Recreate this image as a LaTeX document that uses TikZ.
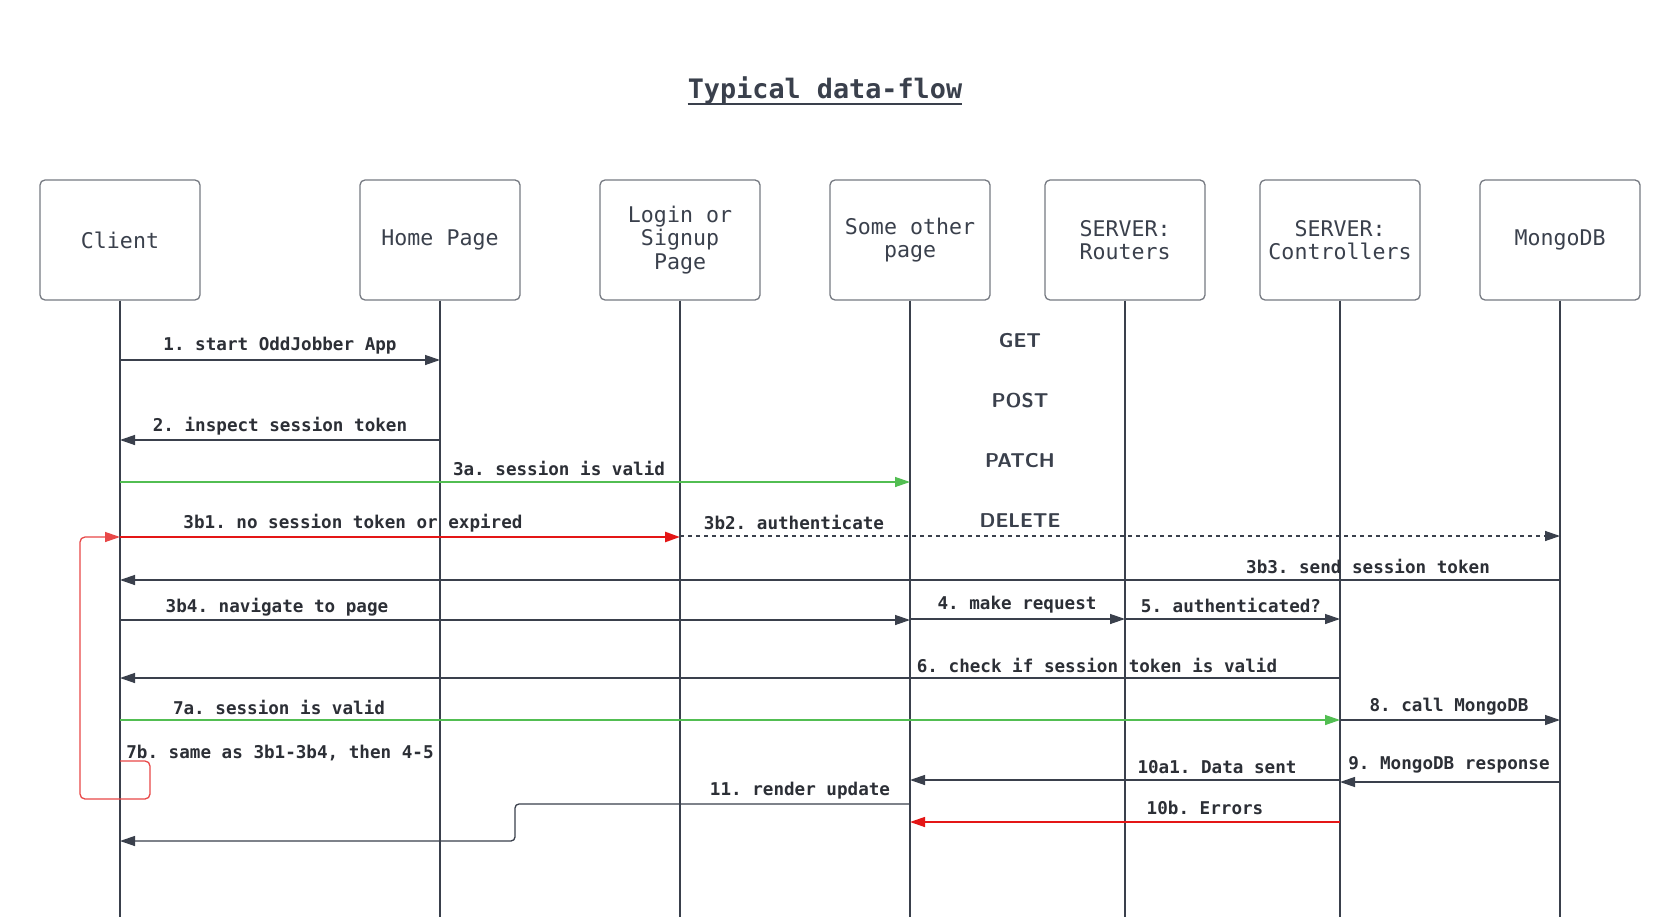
\documentclass[tikz,border=0pt]{standalone}
\usepackage{fontspec}
\setmainfont{Liberation Sans}
\setmonofont{DejaVu Sans Mono}
\usetikzlibrary{arrows.meta}
\definecolor{ink}{RGB}{58,64,76}
\definecolor{lblink}{RGB}{44,47,54}
\definecolor{boxline}{RGB}{118,122,130}
\definecolor{okgreen}{RGB}{82,190,82}
\definecolor{errred}{RGB}{228,22,22}
\definecolor{loopred}{RGB}{232,72,72}
\tikzset{
  actor/.style={draw=boxline, line width=1.3pt, fill=white, rounded corners=5pt,
    minimum width=160pt, minimum height=120pt, align=center, text=ink,
    font=\ttfamily\fontsize{21.6}{23.4}\selectfont},
  life/.style={draw=ink, line width=2pt},
  msg/.style={draw=ink, line width=1.3pt, -{Triangle[length=15pt,width=10pt]}},
  lbl/.style={text=lblink, inner sep=0pt, font=\ttfamily\bfseries\fontsize{17.6}{20}\selectfont},
  meth/.style={text=ink, inner sep=0pt, font=\sffamily\bfseries\fontsize{20}{22}\selectfont},
  titlestyle/.style={text=ink, inner sep=0pt, font=\ttfamily\bfseries\fontsize{26.8}{30}\selectfont},
}
\begin{document}
\begin{tikzpicture}[x=1pt,y=-1pt]
\useasboundingbox[fill=white] (0,0) rectangle (1680,917);
% title
\node[titlestyle, anchor=base] (title) at (825,99) {Typical data-flow};
\draw[ink, line width=2.5pt] (title.base west |- 0,104) -- (title.base east |- 0,104);
% actors
\node[actor] (client) at (120,240) {Client};
\node[actor] (home) at (440,240) {Home Page};
\node[actor] (login) at (680,240) {Login or\\Signup\\Page};
\node[actor] (some) at (910,240) {Some other\\page};
\node[actor] (routers) at (1125,240) {SERVER:\\Routers};
\node[actor] (ctrl) at (1340,240) {SERVER:\\Controllers};
\node[actor] (mongo) at (1560,240) {MongoDB};
% lifelines
\foreach \n in {client,home,login,some,routers,ctrl,mongo}{
  \coordinate (\n-end) at (\n |- 0,917);
  \draw[life] (\n.south) -- (\n-end);
}
% methods
\node[meth] (get) at (1020,341) {GET};
\node[meth] (post) at (1020,401) {POST};
\node[meth] (patch) at (1020,461) {PATCH};
\node[meth] (delete) at (1020,521) {DELETE};
% messages
\draw[msg] (client |- 0,360) -- (home |- 0,360);
\node[lbl] (l1) at (280,346) {1. start OddJobber App};
\draw[msg] (home |- 0,440) -- (client |- 0,440);
\node[lbl] (l2) at (280,426) {2. inspect session token};
\draw[msg, draw=okgreen] (client |- 0,482) -- (some |- 0,482);
\node[lbl] (l3a) at (559,468) {3a. session is valid};
\draw[msg, draw=errred, line width=2.5pt] (client |- 0,537) -- (login |- 0,537);
\node[lbl] (l3b1) at (353,523) {3b1. no session token or expired};
\draw[msg, dash pattern=on 4pt off 4pt] (login |- 0,536) -- (mongo |- 0,536);
\node[lbl] (l3b2) at (794,522) {3b2. authenticate};
\draw[msg] (mongo |- 0,580) -- (client |- 0,580);
\node[lbl] (l3b3) at (1368,566) {3b3. send session token};
\draw[msg] (client |- 0,620) -- (some |- 0,620);
\node[lbl] (l3b4) at (277,607) {3b4. navigate to page};
\draw[msg] (some |- 0,619) -- (routers |- 0,619);
\node[lbl] (l4) at (1017,605) {4. make request};
\draw[msg] (routers |- 0,619) -- (ctrl |- 0,619);
\node[lbl] (l5) at (1231,605) {5. authenticated?};
\draw[msg] (ctrl |- 0,678) -- (client |- 0,678);
\node[lbl] (l6) at (1097,665) {6. check if session token is valid};
\draw[msg, draw=okgreen] (client |- 0,720) -- (ctrl |- 0,720);
\node[lbl] (l7a) at (279,707) {7a. session is valid};
\draw[msg] (ctrl |- 0,720) -- (mongo |- 0,720);
\node[lbl] (l8) at (1449,707) {8. call MongoDB};
\node[lbl] (l7b) at (280,753) {7b. same as 3b1-3b4, then 4-5};
\draw[msg, draw=loopred, rounded corners=5pt] (client |- 0,761) -- (150,761) -- (150,799) -- (80,799) -- (80,537) -- (client |- 0,537);
\draw[msg] (mongo |- 0,782) -- (ctrl |- 0,782);
\node[lbl] (l9) at (1449,765) {9. MongoDB response};
\draw[msg] (ctrl |- 0,780) -- (some |- 0,780);
\node[lbl] (l10a1) at (1217,767) {10a1. Data sent};
\draw[msg, rounded corners=4pt] (some |- 0,804) -| (515,841) -- (client |- 0,841);
\node[lbl] (l11) at (800,791) {11. render update};
\draw[msg, draw=errred] (ctrl |- 0,822) -- (some |- 0,822);
\node[lbl] (l10b) at (1205,808) {10b. Errors};
\end{tikzpicture}
\end{document}
